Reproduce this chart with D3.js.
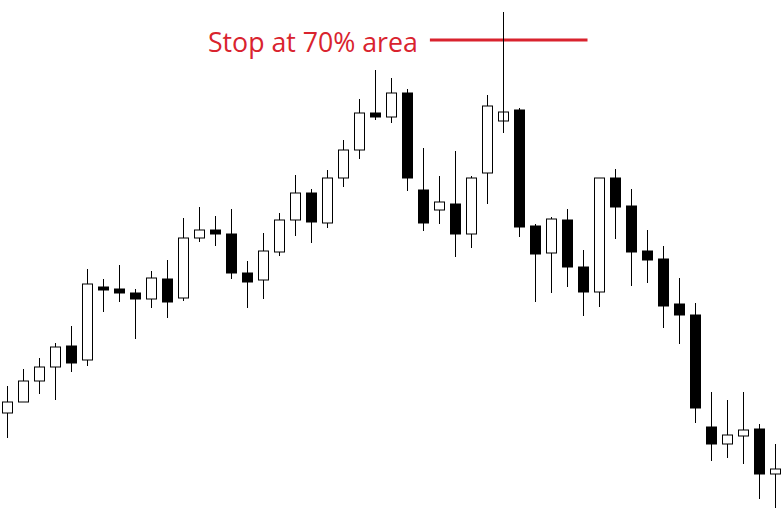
<!DOCTYPE html>
<html>
<head>
<meta charset="utf-8">
<script src="https://cdn.jsdelivr.net/npm/d3@7"></script>
<style>
    body { margin: 0; background: #fff; }
</style>
</head>
<body>
<svg id="dessin" width="782" height="515"></svg>
<script>
// prix des bougies (open, high, low, close)
const opens  = [102, 113, 134, 148, 169, 155, 228, 226, 222, 216, 236, 217, 277, 285, 281, 242, 235, 263, 295, 322, 292, 337, 365, 402, 398,
                422, 325, 305, 311, 281, 342, 394, 405, 289, 262, 295, 248, 223, 337, 309, 264, 256, 211, 200, 88, 71, 79, 86, 41];
const highs  = [129, 146, 157, 172, 189, 246, 236, 250, 226, 244, 255, 297, 308, 299, 306, 254, 282, 302, 340, 326, 345, 375, 416, 445, 437,
                426, 367, 339, 364, 339, 420, 503, 407, 291, 298, 306, 265, 337, 346, 326, 285, 269, 237, 212, 123, 115, 123, 91, 71];
const lows   = [77, 113, 121, 115, 143, 149, 203, 213, 176, 207, 197, 214, 273, 269, 236, 207, 216, 259, 279, 272, 287, 328, 356, 395, 392,
                324, 284, 291, 258, 267, 311, 382, 278, 213, 222, 228, 199, 208, 276, 229, 232, 187, 171, 92, 54, 57, 51, 16, 7];
const closes = [113, 134, 148, 168, 152, 231, 225, 222, 216, 237, 213, 277, 285, 281, 242, 233, 264, 295, 322, 293, 337, 365, 402, 398, 422,
                337, 292, 313, 281, 337, 409, 403, 288, 261, 296, 248, 223, 337, 308, 263, 255, 209, 200, 107, 71, 80, 85, 41, 46];

// annotation
const stopLevel = 475;
const stopLabel = "Stop at 70% area";
const stopFrom = 26.4, stopTo = 36.25;

const data = opens.map((o, i) => ({ i: i, o: o, h: highs[i], l: lows[i], c: closes[i] }));

const svg = d3.select("#dessin");

const x = d3.scaleLinear().domain([0, data.length - 1]).range([7.5, 775.5]);
const y = d3.scaleLinear().domain([0, 515]).range([515, 0]);

const bougies = svg.selectAll("g.bougie")
    .data(data)
    .enter()
    .append("g")
    .attr("class", "bougie");

// meche
bougies.append("line")
    .attr("x1", d => x(d.i))
    .attr("x2", d => x(d.i))
    .attr("y1", d => y(d.h))
    .attr("y2", d => y(d.l))
    .style("stroke", "#000")
    .style("stroke-width", 1);

// corps
bougies.append("rect")
    .attr("x", d => x(d.i) - 5)
    .attr("width", 10)
    .attr("y", d => y(Math.max(d.o, d.c)))
    .attr("height", d => Math.max(1, Math.abs(y(d.o) - y(d.c))))
    .style("fill", d => d.c >= d.o ? "#fff" : "#000")
    .style("stroke", "#000")
    .style("stroke-width", 1);

// ligne rouge du stop
svg.append("line")
    .attr("x1", x(stopFrom))
    .attr("x2", x(stopTo))
    .attr("y1", y(stopLevel))
    .attr("y2", y(stopLevel))
    .style("stroke", "#d9232e")
    .style("stroke-width", 3);

// le trait noir passe par-dessus la ligne rouge
svg.append("line")
    .attr("x1", x(31))
    .attr("x2", x(31))
    .attr("y1", y(highs[31]))
    .attr("y2", y(opens[31]))
    .style("stroke", "#000")
    .style("stroke-width", 1);

svg.append("text")
    .attr("x", x(stopFrom) - 12)
    .attr("y", y(stopLevel) + 12)
    .attr("text-anchor", "end")
    .attr("textLength", 210)
    .attr("lengthAdjust", "spacingAndGlyphs")
    .style("font-family", "'Open Sans', 'Liberation Sans', sans-serif")
    .style("font-size", "28px")
    .style("fill", "#d9232e")
    .text(stopLabel);
</script>
</body>
</html>
